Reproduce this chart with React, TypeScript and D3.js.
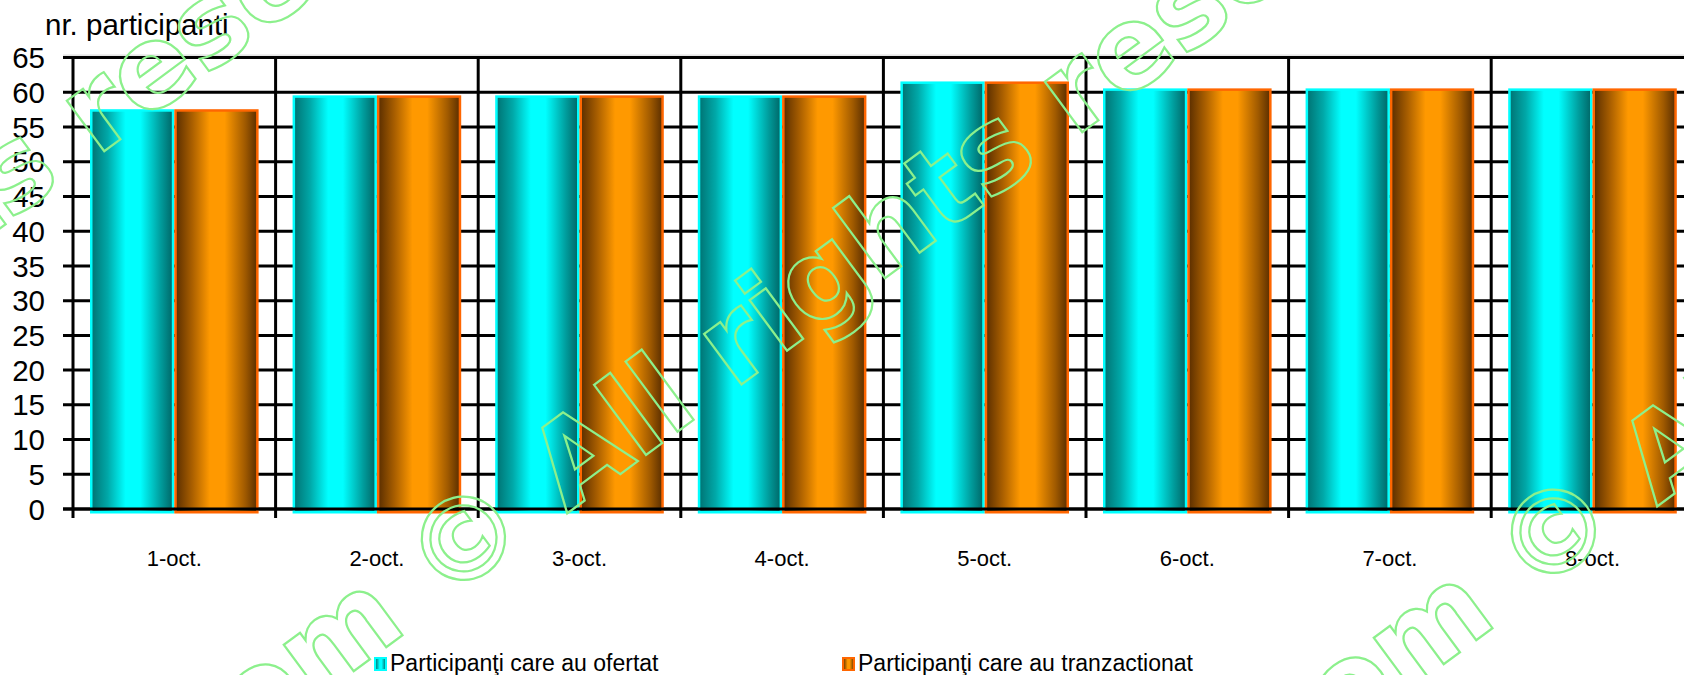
import React from "react";
import * as d3 from "d3";

const categories = ["1-oct.", "2-oct.", "3-oct.", "4-oct.", "5-oct.", "6-oct.", "7-oct.", "8-oct."];
const ofertat = [58, 60, 60, 60, 62, 61, 61, 61];
const tranzactionat = [58, 60, 60, 60, 62, 61, 61, 61];
const seriesNames = ["Participanţi care au ofertat", "Participanţi care au tranzactionat"];
const yTicks = [0, 5, 10, 15, 20, 25, 30, 35, 40, 45, 50, 55, 60, 65];
const yTitle = "nr. participanti";
const watermarkPrefix = "www.site.com";
const watermarkText = "© All rights reserved";

const W = 1684;
const H = 675;
const FONT = "'Liberation Sans', Arial, Helvetica, sans-serif";

export default function App() {
  const left = 73;
  const catW = 202.6;
  const x0 = d3.scaleBand<string>().domain(categories).range([left, left + catW * categories.length]).padding(0);
  const x1 = d3.scaleBand<number>().domain([0, 1]).range([17, x0.bandwidth() - 17]).padding(0);
  const y = d3.scaleLinear().domain([0, 65]).range([509, 57.6]);
  const series = [ofertat, tranzactionat];
  const fills = ["url(#gCyan)", "url(#gOrange)"];
  const strokes = ["#00FFFF", "#FF6600"];
  const shift = 3;
  const sw = 2.5;
  const bw = x1.bandwidth();

  const boundaries = d3.range(categories.length + 1).map((i) => left + i * catW);

  const wmLines = [
    { x: 442, y: 606 },
    { x: 1532, y: 599 },
    { x: -536, y: 625 },
  ];
  const wmSize = 115;

  return (
    <svg width={W} height={H} style={{ position: "absolute", left: 0, top: 0, background: "#fff" }} fontFamily={FONT}>
      <defs>
        <linearGradient id="gCyan" x1="0" x2="1" y1="0" y2="0">
          <stop offset="0" stopColor="#007272" />
          <stop offset="0.2" stopColor="#00a8a8" />
          <stop offset="0.42" stopColor="#00ffff" />
          <stop offset="0.6" stopColor="#00ffff" />
          <stop offset="0.85" stopColor="#009c9c" />
          <stop offset="1" stopColor="#006666" />
        </linearGradient>
        <linearGradient id="gOrange" x1="0" x2="1" y1="0" y2="0">
          <stop offset="0" stopColor="#5a2e00" />
          <stop offset="0.2" stopColor="#a85e00" />
          <stop offset="0.42" stopColor="#ff9900" />
          <stop offset="0.6" stopColor="#ff9900" />
          <stop offset="0.85" stopColor="#a05a00" />
          <stop offset="1" stopColor="#5a2e00" />
        </linearGradient>
      </defs>
      <rect x={0} y={0} width={W} height={H} fill="#fff" />

      {/* faint plot border above top line */}
      <line x1={63} x2={W} y1={y(65) - 2.5} y2={y(65) - 2.5} stroke="#d4d4d4" strokeWidth={1} />

      {/* horizontal gridlines */}
      {yTicks.map((t) => (
        <line key={"h" + t} x1={63} x2={W} y1={y(t)} y2={y(t)} stroke="#000" strokeWidth={3} />
      ))}
      {/* vertical gridlines / category separators */}
      {boundaries.map((bx, i) => (
        <line key={"v" + i} x1={bx} x2={bx} y1={y(65) - 1.5} y2={y(0) + 9} stroke="#000" strokeWidth={3} />
      ))}

      {/* bars */}
      {categories.map((c, ci) => (
        <g key={c}>
          {series.map((s, si) => {
            const bx = (x0(c) as number) + (x1(si) as number);
            const top = y(s[ci]) + shift + sw / 2;
            const bottom = y(0) + shift - sw / 2 + 1.5;
            return (
              <rect
                key={si}
                x={bx + sw / 2}
                y={top}
                width={bw - sw}
                height={bottom - top}
                fill={fills[si]}
                stroke={strokes[si]}
                strokeWidth={sw}
              />
            );
          })}
        </g>
      ))}

      {/* zero axis line over bars */}
      <line x1={63} x2={W} y1={y(0)} y2={y(0)} stroke="#000" strokeWidth={3} />

      {/* y tick labels */}
      {yTicks.map((t) => (
        <text key={"t" + t} x={45} y={y(t)} dy="0.36em" textAnchor="end" fontSize={29.5} fill="#000">
          {t}
        </text>
      ))}
      <text x={45} y={35} fontSize={29.5} fill="#000">
        {yTitle}
      </text>

      {/* category labels */}
      {categories.map((c) => (
        <text key={"c" + c} x={(x0(c) as number) + x0.bandwidth() / 2} y={566} textAnchor="middle" fontSize={22} fill="#000">
          {c}
        </text>
      ))}

      {/* legend */}
      {seriesNames.map((n, i) => {
        const lx = i === 0 ? 374 : 842;
        return (
          <g key={n}>
            <rect x={lx + 1} y={658} width={11} height={12} fill={fills[i]} stroke={strokes[i]} strokeWidth={2} />
            <text x={lx + 16} y={671} fontSize={23} fill="#000">
              {n}
            </text>
          </g>
        );
      })}

      {/* watermark */}
      {wmLines.map((p, i) => (
        <g key={"wm" + i} transform={`translate(${p.x},${p.y}) rotate(-36.5)`}>
          <text
            x={-40}
            y={0}
            textAnchor="end"
            fontFamily="'DejaVu Sans', Verdana, sans-serif"
            fontWeight="bold"
            fontSize={wmSize}
            fill="none"
            stroke="#8CF08C"
            strokeWidth={2.2}
          >
            {watermarkPrefix}
          </text>
          <text
            x={0}
            y={0}
            fontFamily="'DejaVu Sans', Verdana, sans-serif"
            fontWeight="bold"
            fontSize={wmSize}
            fill="none"
            stroke="#8CF08C"
            strokeWidth={2.2}
          >
            {watermarkText}
          </text>
        </g>
      ))}
    </svg>
  );
}
